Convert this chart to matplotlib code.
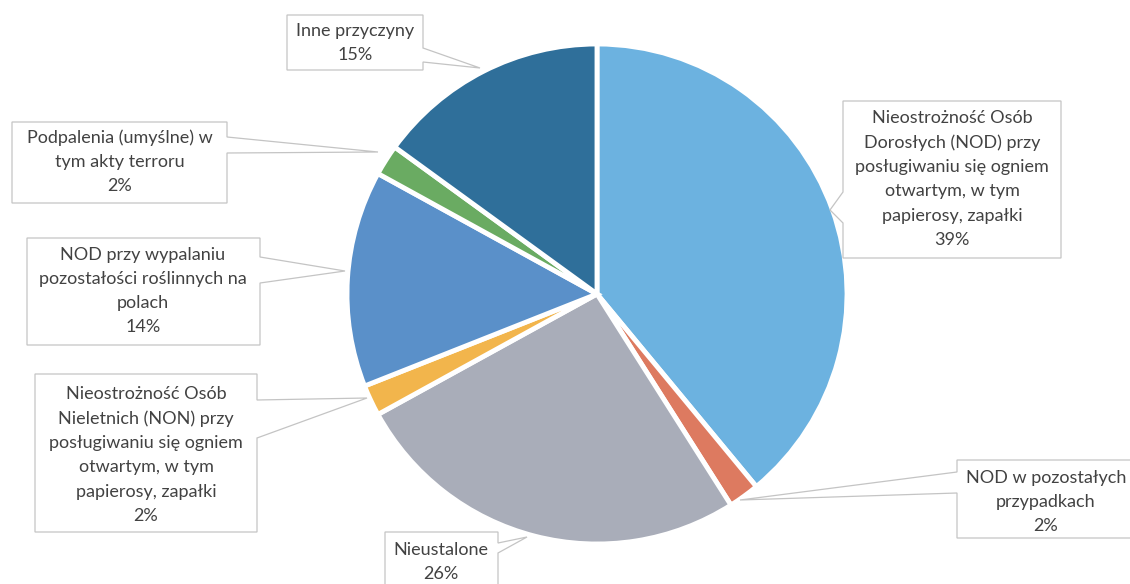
import matplotlib
matplotlib.use('Agg')
import matplotlib.pyplot as plt
from matplotlib.patches import Polygon

W, H = 1130, 584

categories = [
    "Nieostrożność Osób\nDorosłych (NOD) przy\nposługiwaniu się ogniem\notwartym, w tym\npapierosy, zapałki",
    "NOD w pozostałych\nprzypadkach",
    "Nieustalone",
    "Nieostrożność Osób\nNieletnich (NON) przy\nposługiwaniu się ogniem\notwartym, w tym\npapierosy, zapałki",
    "NOD przy wypalaniu\npozostałości roślinnych na\npolach",
    "Podpalenia (umyślne) w\ntym akty terroru",
    "Inne przyczyny",
]
values = [39, 2, 26, 2, 14, 2, 15]
colors = ["#6cb2e0", "#dd7a60", "#a9adb9", "#f2b54c", "#5a90c9", "#6aab62", "#2f6f9a"]

# callout layout in pixel coordinates (y measured from top)
layout = [
    dict(box=(843, 101, 1061, 258), side='left', base=(192, 223), tip=(830, 210), tc=(952, 179)),
    dict(box=(957, 460, 1140, 538), side='left', base=(472, 493), tip=(740, 500), tc=(1046, 502)),
    dict(box=(385, 532, 498, 600), side='right', base=(543, 553), tip=(527, 537), tc=(441, 562)),
    dict(box=(35, 374, 257, 532), side='right', base=(400, 438), tip=(367, 398), tc=(146, 455)),
    dict(box=(27, 238, 260, 345), side='right', base=(257, 283), tip=(345, 271), tc=(143, 291)),
    dict(box=(12, 122, 227, 203), side='right', base=(137, 153), tip=(378, 152), tc=(120, 162)),
    dict(box=(287, 15, 423, 70), side='right', base=(48, 62), tip=(480, 68), tc=(355, 43)),
]

plt.rcParams['font.family'] = ['Lato', 'DejaVu Sans']

fig = plt.figure(figsize=(W / 100, H / 100), dpi=100)
ax = fig.add_axes([0, 0, 1, 1])

ax.pie(values, colors=colors, startangle=90, counterclock=False,
       center=(597, H - 294), radius=250,
       wedgeprops=dict(edgecolor='white', linewidth=3.5))
ax.set_xlim(0, W)
ax.set_ylim(0, H)
ax.set_aspect('equal')
ax.axis('off')


def fy(y):
    return H - y


for cat, val, lay in zip(categories, values, layout):
    x0, y0, x1, y1 = lay['box']
    b1, b2 = lay['base']
    tx, ty = lay['tip']
    if lay['side'] == 'right':
        pts = [(x0, y0), (x1, y0), (x1, b1), (tx, ty), (x1, b2), (x1, y1), (x0, y1)]
    else:
        pts = [(x0, y0), (x1, y0), (x1, y1), (x0, y1), (x0, b2), (tx, ty), (x0, b1)]
    pts = [(px, fy(py)) for px, py in pts]
    ax.add_patch(Polygon(pts, closed=True, facecolor='white', edgecolor='#c4c4c4',
                         linewidth=0.9, zorder=5))
    cx, cy = lay['tc']
    ax.text(cx, fy(cy), f"{cat}\n{val}%", ha='center', va='center',
            fontsize=13, color='#424242', linespacing=1.62, zorder=6)

fig.savefig('out.png', dpi=100, facecolor='white')
